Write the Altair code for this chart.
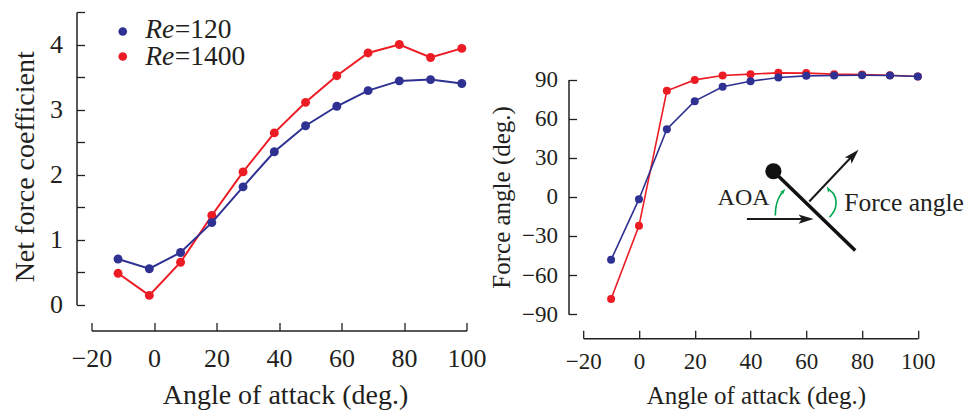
import altair as alt
import pandas as pd

# ---------------- data ----------------
series_names = ["Re=120", "Re=1400"]
angles_left = [-11.5, -1.5, 8.5, 18.5, 28.5, 38.5, 48.5, 58.5, 68.5, 78.5, 88.5, 98.5]
coef_re120 = [0.70, 0.55, 0.80, 1.26, 1.81, 2.35, 2.75, 3.05, 3.29, 3.44, 3.46, 3.40]
coef_re1400 = [0.48, 0.14, 0.65, 1.37, 2.04, 2.64, 3.11, 3.52, 3.87, 4.00, 3.80, 3.94]

angles_right = [-10, 0, 10, 20, 30, 40, 50, 60, 70, 80, 90, 100]
fangle_re120 = [-48.3, -1.8, 51.9, 73.4, 84.4, 88.7, 91.5, 92.8, 93.1, 93.3, 93.1, 92.3]
fangle_re1400 = [-78.3, -22.2, 81.3, 89.7, 93.1, 94.1, 95.1, 94.9, 94.1, 93.8, 93.3, 92.3]

x_ticks = [-20, 0, 20, 40, 60, 80, 100]
left_y_labels = [0, 1, 2, 3, 4]
left_y_ticks = [0, 0.5, 1, 1.5, 2, 2.5, 3, 3.5, 4, 4.5]
right_y_ticks = [-90, -60, -30, 0, 30, 60, 90]

# legend (left panel, data units)
legend_re = ["Re", "Re"]
legend_num = ["=120", "=1400"]
legend_dot_x = [-10.0, -10.0]
legend_dot_y = [4.20, 3.815]
legend_text_x = [-2.8, -2.8]
legend_text_y = [4.103, 3.692]

# inset sketch (right panel, data units)
plate_x = [48.21, 77.56]
plate_y = [19.64, -41.20]
flow_x = [38.71, 59.0]
flow_y = [-17.03, -17.03]
flow_head = [59.93, -17.03, 0]
force_x = [61.08, 76.5]
force_y = [-3.61, 31.3]
force_head = [76.88, 31.92, 313.6]
arc1_x = [48.89, 49.10, 49.89, 50.97, 51.79]
arc1_y = [-14.35, -8.21, -2.07, 2.15, 4.37]
arc1_head = [51.79, 4.37, 310]
arc2_x = [68.35, 70.07, 70.68, 69.96, 67.89]
arc2_y = [-15.65, -10.51, -4.37, 1.77, 5.91]
arc2_head = [67.89, 5.91, 241.5]
label_aoa = ["AOA", 46.85, -5.91]
label_force = ["Force angle", 73.62, -10.5]

BLUE = "#2e3192"
RED = "#ed1c24"
INK = "#231f20"
GREEN = "#00a651"
FONT = "Liberation Serif"
ARROW = "M1,0L-1,-0.62L-0.55,0L-1,0.62Z"

# ---------------- sizes ----------------
LW, LH = 375, 292.5
RW, RH = 334.6, 302.2
R_TOP = 67.5

left_df = pd.DataFrame({
    "angle": angles_left * 2,
    "value": coef_re120 + coef_re1400,
    "series": [series_names[0]] * len(angles_left) + [series_names[1]] * len(angles_left),
})
right_df = pd.DataFrame({
    "angle": angles_right * 2,
    "value": fangle_re120 + fangle_re1400,
    "series": [series_names[0]] * len(angles_right) + [series_names[1]] * len(angles_right),
})

xs_left = alt.Scale(domain=[-20, 100], nice=False, zero=False)
ys_left = alt.Scale(domain=[0, 4.5], nice=False, zero=False)
xs_right = alt.Scale(domain=[-20, 100], nice=False, zero=False)
ys_right = alt.Scale(domain=[-90, 90], nice=False, zero=False, range=[RH, R_TOP])


def label_axis_x(offset, lab_size, lab_pad, title, title_size, tx, ty):
    return alt.Axis(orient="bottom", offset=offset, values=x_ticks, ticks=False, tickSize=0,
                    domain=True, domainColor=INK, domainWidth=1.5, labelFont=FONT,
                    labelFontSize=lab_size, labelColor=INK, labelBaseline="alphabetic",
                    labelPadding=lab_pad, labelFlush=False, labelOverlap=False, labelBound=False,
                    grid=False, title=title, titleFont=FONT, titleFontSize=title_size,
                    titleFontWeight="normal", titleColor=INK, titleBaseline="alphabetic",
                    titleAlign="center", titleX=tx, titleY=ty)


def label_axis_y(offset, values, lab_size, lab_pad, title, title_size, tx, ty):
    return alt.Axis(orient="left", offset=offset, values=values, ticks=False, tickSize=0,
                    domain=True, domainColor=INK, domainWidth=1.5, labelFont=FONT,
                    labelFontSize=lab_size, labelColor=INK, labelBaseline="middle",
                    labelPadding=lab_pad, labelFlush=False, labelOverlap=False, labelBound=False,
                    grid=False, title=title, titleFont=FONT, titleFontSize=title_size,
                    titleFontWeight="normal", titleColor=INK, titleBaseline="alphabetic",
                    titleAlign="center", titleAngle=270, titleX=tx, titleY=ty)


def tick_axis(orient, offset, values):
    return alt.Axis(orient=orient, offset=offset, values=values, ticks=True, tickSize=8,
                    tickWidth=1.3, tickColor=INK, labels=False, domain=False, grid=False,
                    title=None)


def series_layers(df, xs, ys, lw, size):
    layers = []
    for name, col in [(series_names[1], RED), (series_names[0], BLUE)]:
        sub = df[df["series"] == name]
        base = alt.Chart(sub)
        layers.append(base.mark_line(color=col, strokeWidth=lw).encode(
            x=alt.X("angle:Q", scale=xs, axis=None),
            y=alt.Y("value:Q", scale=ys, axis=None)))
        layers.append(base.mark_circle(color=col, size=size, opacity=1).encode(
            x=alt.X("angle:Q", scale=xs, axis=None),
            y=alt.Y("value:Q", scale=ys, axis=None)))
    return layers


# ---------------- left panel ----------------
left_axes_labels = alt.Chart(left_df).mark_point(opacity=0).encode(
    x=alt.X("angle:Q", scale=xs_left,
            axis=label_axis_x(26, 26, 36, "Angle of attack (deg.)", 28, 193.5, 72.7)),
    y=alt.Y("value:Q", scale=ys_left,
            axis=label_axis_y(15, left_y_labels, 26, 14, "Net force coefficient", 28, -43, 154.3)),
)
left_axes_ticks = alt.Chart(left_df).mark_point(opacity=0).encode(
    x=alt.X("angle:Q", scale=xs_left, axis=tick_axis("top", -(LH + 26), x_ticks)),
    y=alt.Y("value:Q", scale=ys_left, axis=tick_axis("right", -(LW + 15), left_y_ticks)),
)

leg_df = pd.DataFrame({"re": legend_re, "num": legend_num, "dx": legend_dot_x,
                       "dy": legend_dot_y, "tx": legend_text_x, "ty": legend_text_y,
                       "series": series_names})
leg_dots = alt.Chart(leg_df).mark_circle(size=75, opacity=1).encode(
    x=alt.X("dx:Q", scale=xs_left, axis=None),
    y=alt.Y("dy:Q", scale=ys_left, axis=None),
    color=alt.Color("series:N", scale=alt.Scale(domain=series_names, range=[BLUE, RED]), legend=None),
)
leg_re = alt.Chart(leg_df).mark_text(font=FONT, fontSize=27.5, fontStyle="italic", align="left",
                                     baseline="alphabetic", color=INK).encode(
    x=alt.X("tx:Q", scale=xs_left, axis=None),
    y=alt.Y("ty:Q", scale=ys_left, axis=None),
    text="re:N",
)
leg_num = alt.Chart(leg_df).mark_text(font=FONT, fontSize=27.5, align="left", dx=29.5,
                                      baseline="alphabetic", color=INK).encode(
    x=alt.X("tx:Q", scale=xs_left, axis=None),
    y=alt.Y("ty:Q", scale=ys_left, axis=None),
    text="num:N",
)

left = alt.layer(left_axes_labels, left_axes_ticks,
                 *series_layers(left_df, xs_left, ys_left, 2, 80),
                 leg_dots, leg_re, leg_num).resolve_axis(
    x="independent", y="independent").properties(width=LW, height=LH)

# ---------------- right panel ----------------
right_axes_labels = alt.Chart(right_df).mark_point(opacity=0).encode(
    x=alt.X("angle:Q", scale=xs_right,
            axis=label_axis_x(24, 23, 30.6, "Angle of attack (deg.)", 25, 172.6, 65.6)),
    y=alt.Y("value:Q", scale=ys_right,
            axis=label_axis_y(14.7, right_y_ticks, 23, 11, "Force angle (deg.)", 25, -59.3, 184.9)),
)
right_axes_ticks = alt.Chart(right_df).mark_point(opacity=0).encode(
    x=alt.X("angle:Q", scale=xs_right, axis=tick_axis("top", -(RH + 24), x_ticks)),
    y=alt.Y("value:Q", scale=ys_right, axis=tick_axis("right", -(RW + 14.7), right_y_ticks)),
)


def seg_chart(xv, yv, color, width):
    d = pd.DataFrame({"x": xv, "y": yv, "o": list(range(len(xv)))})
    return alt.Chart(d).mark_line(color=color, strokeWidth=width, interpolate="natural",
                                  strokeCap="butt").encode(
        x=alt.X("x:Q", scale=xs_right, axis=None),
        y=alt.Y("y:Q", scale=ys_right, axis=None),
        order="o:Q",
    )


def head_chart(h, color, size):
    d = pd.DataFrame({"x": [h[0]], "y": [h[1]], "a": [h[2]]})
    return alt.Chart(d).mark_point(shape=ARROW, filled=True, color=color, size=size,
                                   opacity=1, strokeWidth=0).encode(
        x=alt.X("x:Q", scale=xs_right, axis=None),
        y=alt.Y("y:Q", scale=ys_right, axis=None),
        angle=alt.Angle("a:Q", scale=None),
    )


ball_df = pd.DataFrame({"x": [plate_x[0]], "y": [plate_y[0]]})
ball = alt.Chart(ball_df).mark_circle(color="#111111", size=260, opacity=1).encode(
    x=alt.X("x:Q", scale=xs_right, axis=None),
    y=alt.Y("y:Q", scale=ys_right, axis=None),
)
txt_df = pd.DataFrame({"t": [label_aoa[0], label_force[0]], "x": [label_aoa[1], label_force[1]],
                       "y": [label_aoa[2], label_force[2]]})
txt_aoa = alt.Chart(txt_df.iloc[[0]]).mark_text(font=FONT, fontSize=24, align="right",
                                                baseline="alphabetic", color=INK).encode(
    x=alt.X("x:Q", scale=xs_right, axis=None),
    y=alt.Y("y:Q", scale=ys_right, axis=None), text="t:N")
txt_force = alt.Chart(txt_df.iloc[[1]]).mark_text(font=FONT, fontSize=25.5, align="left",
                                                  baseline="alphabetic", color=INK).encode(
    x=alt.X("x:Q", scale=xs_right, axis=None),
    y=alt.Y("y:Q", scale=ys_right, axis=None), text="t:N")

sketch = [
    seg_chart(flow_x, flow_y, "#1a1a1a", 2),
    head_chart(flow_head, "#1a1a1a", 225),
    seg_chart(force_x, force_y, "#1a1a1a", 2),
    head_chart(force_head, "#1a1a1a", 225),
    seg_chart(plate_x, plate_y, "#111111", 3.5),
    ball,
    seg_chart(arc1_x, arc1_y, GREEN, 1.6),
    head_chart(arc1_head, GREEN, 40),
    seg_chart(arc2_x, arc2_y, GREEN, 1.6),
    head_chart(arc2_head, GREEN, 40),
    txt_aoa, txt_force,
]

right = alt.layer(right_axes_labels, right_axes_ticks,
                  *series_layers(right_df, xs_right, ys_right, 1.6, 64),
                  *sketch).resolve_axis(
    x="independent", y="independent").properties(width=RW, height=RH)

chart = alt.hconcat(left, right, spacing=116.7, bounds="flush").properties(
    padding={"left": 11.5, "top": 11, "right": 0, "bottom": 0},
    background="white",
).configure_view(strokeWidth=0, stroke="transparent")

chart.save("out.html", embed_options={"renderer": "svg", "actions": False})
